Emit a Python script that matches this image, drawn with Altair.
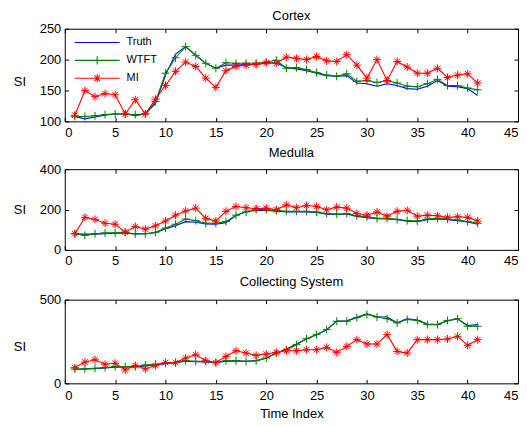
import altair as alt
import pandas as pd

# ---------------- data ----------------
time_index = list(range(1, 42))

cortex_truth = [108, 104, 107, 110, 112, 112, 109, 112, 129, 175,
                209, 221, 207, 194, 186, 191, 191, 192, 192, 194,
                195, 187, 185, 182, 178, 174, 173, 174, 162, 161,
                157, 161, 158, 153, 152, 157, 166, 157, 156, 153, 142]
cortex_wtft = [108, 108, 109, 111, 112, 112, 111, 112, 132, 178,
               203, 221, 207, 194, 186, 195, 194, 194, 194, 196,
               199, 186, 187, 184, 179, 175, 173, 177, 165, 166,
               163, 166, 162, 157, 156, 161, 168, 158, 158, 154, 151]
cortex_mi = [110, 150, 140, 145, 143, 112, 135, 112, 136, 158,
             181, 196, 189, 170, 155, 182, 189, 191, 192, 195,
             194, 204, 202, 200, 205, 198, 197, 208, 191, 170,
             200, 166, 197, 188, 178, 178, 186, 171, 175, 177, 162]

medulla_truth = [78, 78, 78, 80, 82, 82, 80, 80, 85, 105,
                 120, 140, 137, 128, 127, 135, 170, 190, 195, 195,
                 192, 188, 188, 188, 185, 177, 175, 178, 166, 160,
                 155, 153, 150, 142, 140, 150, 153, 150, 145, 138, 127]
medulla_wtft = [80, 72, 80, 84, 84, 87, 79, 80, 87, 108,
                127, 153, 145, 132, 132, 140, 172, 188, 201, 199,
                196, 191, 191, 191, 188, 180, 177, 180, 169, 164,
                156, 156, 151, 145, 143, 153, 156, 153, 148, 140, 132]
medulla_mi = [80, 161, 151, 132, 127, 88, 116, 103, 119, 143,
              172, 193, 207, 156, 143, 191, 215, 209, 204, 207,
              199, 223, 209, 220, 215, 199, 212, 207, 180, 172,
              188, 167, 191, 196, 167, 172, 169, 161, 164, 161, 143]

collect_truth = [84, 86, 88, 92, 96, 98, 98, 104, 110, 118,
                 124, 132, 130, 128, 124, 132, 134, 132, 136, 150,
                 180, 205, 235, 265, 290, 320, 372, 374, 395, 416,
                 398, 396, 362, 386, 378, 355, 352, 372, 386, 346, 351]
collect_wtft = [86, 86, 90, 94, 100, 100, 100, 110, 114, 120,
                124, 135, 131, 131, 124, 135, 135, 131, 135, 151,
                181, 200, 231, 267, 291, 321, 371, 371, 392, 412,
                396, 386, 361, 382, 376, 351, 351, 376, 386, 341, 341]
collect_mi = [94, 127, 141, 114, 120, 80, 106, 86, 106, 124,
              124, 151, 171, 135, 124, 161, 195, 181, 167, 175,
              185, 195, 195, 201, 201, 215, 185, 221, 261, 235,
              235, 291, 191, 181, 261, 261, 261, 265, 281, 227, 261]

series_names = ["Truth", "WTFT", "MI"]
series_colors = ["#0000ff", "#008000", "#ff0000"]
x_ticks = [0, 5, 10, 15, 20, 25, 30, 35, 40, 45]

# ---------------- styling ----------------
FONT = "Liberation Sans"
W = 455
SPACING = 6
PLUS = "M-1,0H1M0,-1V1"
STAR = "M-1,0H1M0,-1V1M-0.7,-0.7L0.7,0.7M-0.7,0.7L0.7,-0.7"
LEGEND_PATHS = [
    "M-1,0H1",
    "M-1,0H1M0,-0.18V0.18",
    "M-1,0H1M0,-0.18V0.18M-0.125,-0.125L0.125,0.125M-0.125,0.125L0.125,-0.125",
]


def tick_axis(orient, offset, values):
    return alt.Axis(orient=orient, offset=offset, values=values, labels=False,
                    domain=False, grid=False, ticks=True, tickSize=4,
                    tickColor="black", tickWidth=1, title=None)


def panel(name, truth, wtft, mi, ydom, yvals, H, si_y, title_offset,
          legend=False, xtitle=False, lab_pad=5):
    df = pd.DataFrame({"t": time_index, "Truth": truth, "WTFT": wtft, "MI": mi})
    long = df.melt(id_vars="t", var_name="series", value_name="v")
    xs = alt.Scale(domain=[0, 45], nice=False, zero=False)
    ys = alt.Scale(domain=ydom, nice=False, zero=False)
    base = alt.Chart(long)

    def X(axis):
        return alt.X("t:Q", scale=xs, axis=axis)

    def Y(axis):
        return alt.Y("v:Q", scale=ys, axis=axis)

    common = dict(ticks=False, domain=False, grid=False, labelFont=FONT,
                  labelFontSize=13, labelColor="black", titleFont=FONT,
                  titleFontSize=13, titleFontWeight="normal", titleColor="black")
    if xtitle:
        main_x = alt.Axis(values=x_ticks, labelPadding=lab_pad, title="Time Index",
                          titlePadding=5, **common)
    else:
        main_x = alt.Axis(values=x_ticks, labelPadding=lab_pad, title=None, **common)
    main_y = alt.Axis(values=yvals, labelPadding=4, title="SI", titleAngle=0,
                      titleX=-45.5, titleY=si_y, titleAlign="center",
                      titleBaseline="middle", **common)

    truth_line = base.transform_filter("datum.series == 'Truth'").mark_line(
        color=series_colors[0], strokeWidth=1.1).encode(x=X(main_x), y=Y(main_y))
    wtft_line = base.transform_filter("datum.series == 'WTFT'").mark_line(
        color=series_colors[1], strokeWidth=1.1).encode(
        x=X(tick_axis("top", -H, x_ticks)), y=Y(tick_axis("right", -W, yvals)))
    wtft_pts = base.transform_filter("datum.series == 'WTFT'").mark_point(
        shape=PLUS, size=64, filled=False, strokeWidth=1, opacity=1,
        color=series_colors[1]).encode(x=X(None), y=Y(None))
    mi_line = base.transform_filter("datum.series == 'MI'").mark_line(
        color=series_colors[2], strokeWidth=1.1).encode(
        x=X(tick_axis("bottom", -H, x_ticks)), y=Y(tick_axis("left", -W, yvals)))
    mi_pts = base.transform_filter("datum.series == 'MI'").mark_point(
        shape=STAR, size=64, filled=False, strokeWidth=1, opacity=1,
        color=series_colors[2]).encode(x=X(None), y=Y(None))

    layers = [truth_line, wtft_line, wtft_pts, mi_line, mi_pts]
    if legend:
        leg = alt.Legend(title=None, orient="none", legendX=6, legendY=5, padding=0,
                         symbolSize=2025, symbolStrokeWidth=1.1, symbolOffset=3,
                         clipHeight=17.5, rowPadding=0, labelFont=FONT,
                         labelFontSize=11, labelColor="black", labelOffset=6)
        leg_layer = base.transform_filter("datum.t < 0").mark_point(
            filled=False, opacity=1).encode(
            x=X(None), y=Y(None),
            color=alt.Color("series:N", scale=alt.Scale(domain=series_names, range=series_colors), legend=leg),
            shape=alt.Shape("series:N", scale=alt.Scale(domain=series_names, range=LEGEND_PATHS), legend=leg))
        layers.append(leg_layer)

    return alt.layer(*layers).resolve_axis(x="independent", y="independent").properties(
        width=W, height=H,
        title=alt.TitleParams(text=name, fontSize=13, font=FONT, fontWeight="normal",
                              color="black", offset=title_offset, anchor="middle"))


c1 = panel("Cortex", cortex_truth, cortex_wtft, cortex_mi, [100, 250], [100, 150, 200, 250],
           93, 53, 0, legend=True)
c2 = panel("Medulla", medulla_truth, medulla_wtft, medulla_mi, [0, 400], [0, 200, 400],
           81, 40.5, 3)
c3 = panel("Collecting System", collect_truth, collect_wtft, collect_mi, [0, 500], [0, 500],
           84, 47.5, 5, xtitle=True, lab_pad=6)

chart = alt.vconcat(c1, c2, c3, spacing=SPACING).resolve_scale(
    x="independent", y="independent", color="independent", shape="independent"
).resolve_legend(color="independent", shape="independent").properties(
    padding={"left": 4, "top": 0, "right": 0, "bottom": 0},
    background="white"
).configure_view(stroke="black", strokeWidth=1)

chart.save("out.html", embed_options={"renderer": "svg", "actions": False})
